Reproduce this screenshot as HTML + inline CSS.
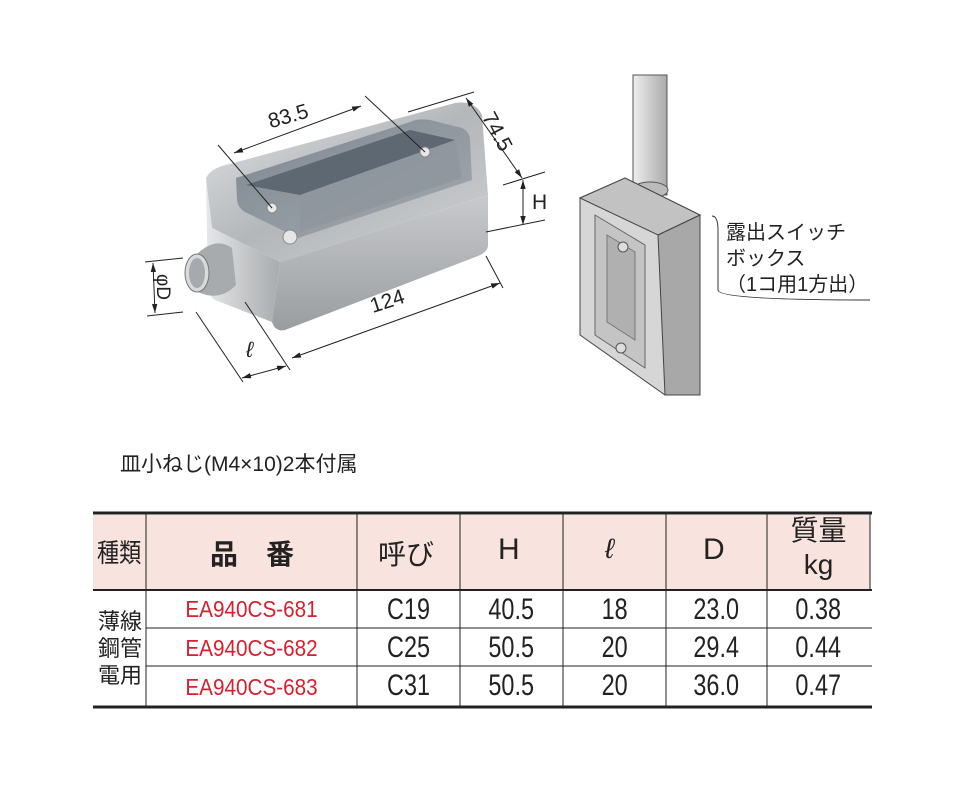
<!DOCTYPE html>
<html><head><meta charset="utf-8"><style>
body{margin:0;background:#fff;width:979px;height:791px;position:relative;overflow:hidden;font-family:"Liberation Sans","Noto Sans CJK JP",sans-serif;}
.t{position:absolute;color:#222;}
.n{position:absolute;color:#222;text-align:center;font-size:30px;line-height:38px;}
.n span{display:inline-block;transform:scaleX(0.78);}
.r{position:absolute;left:146px;width:211px;text-align:center;color:#d6202e;font-size:23px;}
.r span{display:inline-block;transform:scaleX(0.9);}
</style></head><body>
<svg width="979" height="791" style="position:absolute;left:0;top:0">
<defs>
<linearGradient id="g1" x1="0" y1="0" x2="1" y2="1"><stop offset="0" stop-color="#e2e4e6"/><stop offset="0.5" stop-color="#b4b7ba"/><stop offset="1" stop-color="#d0d2d4"/></linearGradient>
<linearGradient id="g2" x1="0" y1="0" x2="0" y2="1"><stop offset="0" stop-color="#c8cacc"/><stop offset="1" stop-color="#9a9da0"/></linearGradient>
<linearGradient id="g4" x1="0" y1="0" x2="1" y2="0"><stop offset="0" stop-color="#e6e7e8"/><stop offset="1" stop-color="#a8abae"/></linearGradient>
<linearGradient id="g3" x1="0" y1="0" x2="1" y2="0"><stop offset="0" stop-color="#eee"/><stop offset="1" stop-color="#aaa"/></linearGradient>
<linearGradient id="gi" x1="0" y1="0" x2="1" y2="1"><stop offset="0" stop-color="#7d8690"/><stop offset="1" stop-color="#a4aab0"/></linearGradient>
<marker id="a" viewBox="0 0 10 10" refX="10" refY="5" markerWidth="9" markerHeight="9" orient="auto-start-reverse"><path d="M0 2 L10 5 L0 8 Z" fill="#222"/></marker>
</defs>
<path d="M206 178 Q210 170 222 166 L455 103 Q475 100 482 115 L488 195 L280 262 L212 228 Z" fill="url(#g1)"/>
<path d="M280 262 L488 195 L488 245 Q488 252 478 256 L285 330 Q275 332 272 322 Z" fill="url(#g2)"/>
<path d="M206 178 L212 228 L280 262 L272 322 L215 300 Q208 296 208 288 Z" fill="url(#g4)"/>
<path d="M236 178 L410 122 Q418 118 430 120 L462 128 Q470 132 470 140 L472 180 L298 238 L245 212 Q238 208 237 200 Z" fill="url(#gi)"/>
<path d="M246 185 L410 130 L455 140 L300 195 Z" fill="#5e6872"/>
<path d="M300 195 L455 140 L462 178 L300 232 Z" fill="#8e969e" opacity="0.8"/>
<path d="M196 255 Q215 236 232 248 L236 285 Q220 302 198 292 Z" fill="#a8abae"/>
<ellipse cx="197" cy="273" rx="12" ry="19" fill="#d8dadc" stroke="#777"/>
<ellipse cx="197" cy="273" rx="8" ry="15" fill="#a6aaae"/>
<circle cx="290" cy="237" r="7" fill="#e6e6e6" stroke="#888"/>
<circle cx="272" cy="208" r="5" fill="#e6e6e6" stroke="#888"/>
<circle cx="425" cy="152" r="5" fill="#e6e6e6" stroke="#888"/>
<g stroke="#222" stroke-width="1" fill="none">
<line x1="218" y1="145" x2="272" y2="208"/><line x1="365" y1="96" x2="425" y2="152"/>
<line x1="234" y1="153" x2="361" y2="106" marker-start="url(#a)" marker-end="url(#a)"/>
<line x1="408" y1="112" x2="474" y2="92"/><line x1="466" y1="98" x2="522" y2="178" marker-start="url(#a)" marker-end="url(#a)"/>
<line x1="503" y1="185" x2="545" y2="172"/><line x1="486" y1="232" x2="545" y2="220"/>
<line x1="523" y1="180" x2="523" y2="225" marker-start="url(#a)" marker-end="url(#a)"/>
<line x1="145" y1="262" x2="183" y2="258"/><line x1="147" y1="316" x2="183" y2="312"/>
<line x1="153" y1="263" x2="155" y2="313" marker-start="url(#a)" marker-end="url(#a)"/>
<line x1="486" y1="256" x2="503" y2="288"/><line x1="292" y1="358" x2="500" y2="283" marker-start="url(#a)" marker-end="url(#a)"/>
<line x1="196" y1="312" x2="243" y2="382"/><line x1="245" y1="302" x2="290" y2="370"/>
<line x1="242" y1="378" x2="286" y2="366" marker-start="url(#a)" marker-end="url(#a)"/>
</g>
<rect x="633" y="75" width="34" height="120" fill="url(#g3)" stroke="#555"/>
<ellipse cx="650" cy="190" rx="18" ry="8" fill="#bbb" stroke="#555"/>
<path d="M580 198 L625 178 L700 215 L700 395 L665 395 L580 335 Z" fill="#d6d6d6" stroke="#444"/>
<path d="M580 198 L625 178 L700 215 L658 235 Z" fill="#c2c2c2" stroke="#444"/>
<path d="M658 235 L700 215 L700 395 L665 395 Z" fill="#a8a8a8" stroke="#444"/>
<path d="M595 215 L645 245 L645 368 L595 335 Z" fill="#c4c4c4" stroke="#666"/>
<path d="M607 235 L635 252 L635 340 L607 322 Z" fill="#b0b0b0" stroke="#777"/>
<circle cx="623" cy="247" r="5" fill="#ddd" stroke="#555"/>
<circle cx="621" cy="348" r="5" fill="#ddd" stroke="#555"/>
<path d="M712 216 Q718 216 718 230 L718 290 Q718 300 870 300" stroke="#333" fill="none"/>
<rect x="93" y="515" width="777" height="75" fill="#f9e3df"/>
<g stroke="#222" fill="none">
<line x1="93" y1="513" x2="872" y2="513" stroke-width="3"/>
<line x1="93" y1="590" x2="872" y2="590" stroke-width="2"/>
<line x1="146" y1="628" x2="872" y2="628"/>
<line x1="146" y1="666" x2="872" y2="666"/>
<line x1="93" y1="707" x2="872" y2="707" stroke-width="3"/>
<line x1="146" y1="513" x2="146" y2="707"/><line x1="357" y1="513" x2="357" y2="707"/>
<line x1="460" y1="513" x2="460" y2="707"/><line x1="563" y1="513" x2="563" y2="707"/>
<line x1="666" y1="513" x2="666" y2="707"/><line x1="767" y1="513" x2="767" y2="707"/>
<line x1="870" y1="513" x2="870" y2="590"/>
</g>
</svg>
<div class="t" style="left:268px;top:105px;font-size:21px;transform:rotate(-16deg)">83.5</div>
<div class="t" style="left:476px;top:120px;font-size:21px;transform:rotate(62deg)">74.5</div>
<div class="t" style="left:532px;top:191px;font-size:21px">H</div>
<div class="t" style="left:149px;top:276px;font-size:19px;transform:rotate(90deg)">φD</div>
<div class="t" style="left:370px;top:290px;font-size:21px;transform:rotate(-18deg)">124</div>
<div class="t" style="left:246px;top:337px;font-size:22px;font-style:italic">ℓ</div>
<div class="t" style="left:726px;top:220px;font-size:20px;line-height:26px">露出スイッチ<br>ボックス<br>（1コ用1方出）</div>
<div class="t" style="left:120px;top:448px;font-size:21px">皿小ねじ(M4×10)2本付属</div>
<div class="t" style="left:97px;top:533px;font-size:26px;transform:scaleX(0.85);transform-origin:left">種類</div>
<div class="t" style="left:210px;top:533px;font-size:28px;font-weight:bold">品　番</div>
<div class="t" style="left:378px;top:533px;font-size:28px">呼び</div>
<div class="t" style="left:498px;top:533px;font-size:30px">H</div>
<div class="t" style="left:605px;top:533px;font-size:28px;font-style:italic">ℓ</div>
<div class="t" style="left:703px;top:533px;font-size:30px">D</div>
<div class="t" style="left:767px;top:514px;font-size:28px;line-height:34px;text-align:center;width:103px">質量<br>kg</div>
<div class="t" style="left:98px;top:608px;font-size:22px;line-height:27px;width:46px">薄線<br>鋼管<br>電用</div>
<div class="r" style="top:596px"><span>EA940CS-681</span></div>
<div class="r" style="top:635px"><span>EA940CS-682</span></div>
<div class="r" style="top:674px"><span>EA940CS-683</span></div>
<div class="n" style="left:357px;top:591px;width:103px"><span>C19</span><br><span>C25</span><br><span>C31</span></div>
<div class="n" style="left:460px;top:591px;width:103px"><span>40.5</span><br><span>50.5</span><br><span>50.5</span></div>
<div class="n" style="left:563px;top:591px;width:103px"><span>18</span><br><span>20</span><br><span>20</span></div>
<div class="n" style="left:666px;top:591px;width:101px"><span>23.0</span><br><span>29.4</span><br><span>36.0</span></div>
<div class="n" style="left:767px;top:591px;width:103px"><span>0.38</span><br><span>0.44</span><br><span>0.47</span></div>
</body></html>
